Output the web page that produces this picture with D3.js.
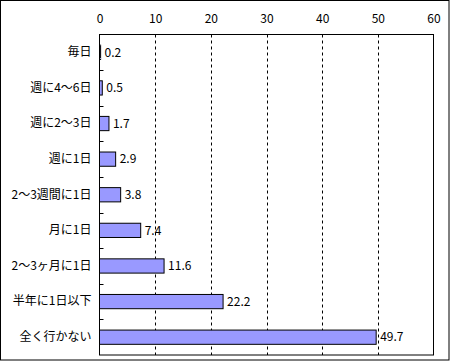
<!DOCTYPE html>
<html><head><meta charset="utf-8">
<script src="https://cdn.jsdelivr.net/npm/d3@7"></script>
<style>body{margin:0;background:#fff}svg{display:block}</style>
</head><body>
<script>
const categories = ["毎日","週に4〜6日","週に2〜3日","週に1日","2〜3週間に1日","月に1日","2〜3ヶ月に1日","半年に1日以下","全く行かない"];
const values = [0.2,0.5,1.7,2.9,3.8,7.4,11.6,22.2,49.7];
const xTicks = [0,10,20,30,40,50,60];

const W=450,H=361;
const m={left:99.5,right:16.5,top:34.5,bottom:6};
const svg=d3.select("body").append("svg").attr("width",W).attr("height",H);
const font="'Noto Sans CJK JP', sans-serif";
const fs=12;
svg.append("rect").attr("x",0.5).attr("y",0.5).attr("width",448.5).attr("height",359.5).attr("fill","#fff").attr("stroke","#000");

const x=d3.scaleLinear().domain([0,60]).range([m.left,W-m.right]);
const y=d3.scaleBand().domain(categories).range([m.top,H-m.bottom]).paddingInner(0.6).paddingOuter(0.3);
const yb=d3.scaleBand().domain(categories).range([m.top,H-m.bottom]);

// gridlines
svg.append("g").selectAll("line").data(xTicks.filter(t=>t>0&&t<60)).join("line")
  .attr("x1",d=>Math.round(x(d))+0.5).attr("x2",d=>Math.round(x(d))+0.5)
  .attr("y1",m.top).attr("y2",H-m.bottom)
  .attr("stroke","#000").attr("stroke-dasharray","3,3");

// plot border
svg.append("rect").attr("x",m.left).attr("y",m.top).attr("width",x(60)-m.left).attr("height",H-m.bottom-m.top)
  .attr("fill","none").attr("stroke","#000");

// top axis labels
const xa=d3.axisTop(x).tickValues(xTicks).tickSize(0).tickPadding(12);
const gx=svg.append("g").attr("transform",`translate(0,${m.top})`).call(xa);
gx.select(".domain").remove();
gx.selectAll("text").attr("font-family",font).attr("font-size",fs).attr("fill","#000");

// left axis: inward ticks at band boundaries
svg.append("g").selectAll("line").data(categories.slice(1)).join("line")
  .attr("x1",m.left).attr("x2",m.left+4)
  .attr("y1",d=>Math.round(yb(d))+0.5).attr("y2",d=>Math.round(yb(d))+0.5)
  .attr("stroke","#000");

const ya=d3.axisLeft(y).tickSize(0).tickPadding(8);
const gy=svg.append("g").attr("transform",`translate(${m.left},0)`).call(ya);
gy.select(".domain").remove();
gy.selectAll("text").attr("font-family",font).attr("font-size",fs).attr("fill","#000");

// bars
svg.append("g").selectAll("rect").data(values).join("rect")
  .attr("x",m.left).attr("y",(d,i)=>y(categories[i]))
  .attr("width",d=>x(d)-m.left).attr("height",y.bandwidth())
  .attr("fill","#9999FF").attr("stroke","#000");

// value labels
svg.append("g").selectAll("text").data(values).join("text")
  .attr("x",d=>x(d)+4).attr("y",(d,i)=>y(categories[i])+y.bandwidth()/2)
  .attr("dy","0.35em").attr("font-family",font).attr("font-size",fs)
  .text(d=>d.toFixed(1));
</script>
</body></html>
